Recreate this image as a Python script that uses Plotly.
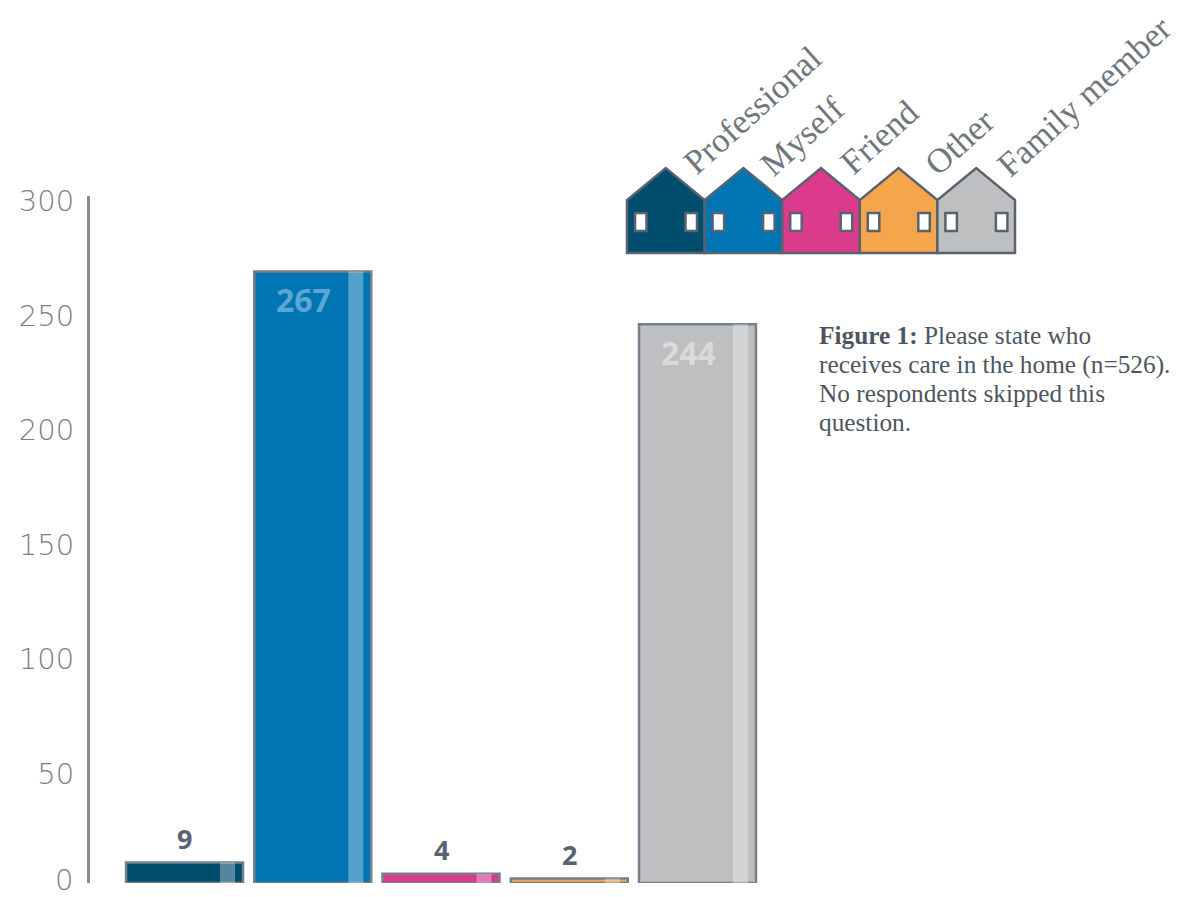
import plotly.graph_objects as go

W, H = 1183, 897
categories = ["Professional", "Myself", "Friend", "Other", "Family member"]
counts = [9, 267, 4, 2, 244]
colors = ["#004d6e", "#0075b3", "#dc3a8c", "#f5a54c", "#bebfc1"]
tick_values = [50, 100, 150, 200, 250, 300]
baseline_value = 0
label_colors = ["#58636f", "#5ba6d3", "#58636f", "#58636f", "#d9dadb"]
label_centers = [(752, 110), (802, 136), (879, 137), (959, 142), (1084, 96)]
caption_lines = ["<b>Figure 1:</b> Please state who", "receives care in the home (n=526).",
                 "No respondents skipped this", "question."]
caption_rows = [335, 364, 393, 422]

STROKE = "#58636f"
SLAB = "Liberation Serif"
TICK_FONT = dict(family="DejaVu Sans", size=29, color="#7d8083", weight=300)


def px(x):
    return x / W


def py(y):
    return 1 - y / H


fig = go.Figure()
fig.add_trace(go.Bar(
    x=categories, y=counts, width=0.912,
    marker=dict(color=colors, line=dict(color="#76808a", width=2.5)),
    hoverinfo="skip", showlegend=False,
))
fig.add_trace(go.Bar(
    x=categories, y=counts, width=0.117, offset=0.277,
    marker=dict(color="rgba(255,255,255,0.33)", line=dict(width=0)),
    hoverinfo="skip", showlegend=False,
))

annotations = []
for cat, val, lc in zip(categories, counts, label_colors):
    big = val > 50
    annotations.append(dict(
        x=cat, y=val, xref="x", yref="y", text=f"<b>{val}</b>", showarrow=False,
        xanchor="center", yanchor="middle", xshift=-9 if big else 0,
        yshift=-28 if big else 24,
        font=dict(family="Open Sans", size=32 if big else 27, color=lc),
    ))
for cat, (cx, cy) in zip(categories, label_centers):
    annotations.append(dict(
        x=px(cx), y=py(cy), xref="paper", yref="paper", text=cat, showarrow=False,
        textangle=-42, xanchor="center", yanchor="middle",
        font=dict(family=SLAB, size=34.5, color="#70767d"),
    ))
for line, row in zip(caption_lines, caption_rows):
    annotations.append(dict(
        x=px(818), y=py(row), xref="paper", yref="paper", text=line, showarrow=False,
        xanchor="left", yanchor="middle", align="left", borderpad=0,
        font=dict(family=SLAB, size=25.3, color="#4d5660"),
    ))
# The baseline label sits low, so it is placed apart from the shifted axis labels
# to stay fully inside the page.
annotations.append(dict(
    x=px(74), y=baseline_value, xref="paper", yref="y", text=str(baseline_value),
    showarrow=False, xanchor="right", yanchor="middle", yshift=3, borderpad=0,
    font=TICK_FONT,
))

shapes = []
for i, c in enumerate(colors):
    x0 = 627 + i * 77.6
    x1 = x0 + 77.6
    xm = (x0 + x1) / 2
    path = (f"M {px(x0)} {py(253)} L {px(x0)} {py(200)} L {px(xm)} {py(168)} "
            f"L {px(x1)} {py(200)} L {px(x1)} {py(253)} Z")
    shapes.append(dict(type="path", xref="paper", yref="paper", path=path,
                       fillcolor=c, line=dict(color=STROKE, width=2.5)))
    for off in (8, 58.5):
        shapes.append(dict(type="rect", xref="paper", yref="paper",
                           x0=px(x0 + off), x1=px(x0 + off + 11.5),
                           y0=py(231), y1=py(213), fillcolor="white",
                           line=dict(color=STROKE, width=2.5)))

fig.update_layout(
    width=W, height=H, margin=dict(l=0, r=0, t=0, b=0, pad=0, autoexpand=False),
    paper_bgcolor="white", plot_bgcolor="white", barmode="overlay",
    showlegend=False, annotations=annotations, shapes=shapes,
    xaxis=dict(domain=[px(120.4), px(761.6)], range=[-0.5, 4.5], visible=False,
               type="category", categoryorder="array", categoryarray=categories),
    yaxis=dict(domain=[py(883), py(196)], range=[0, 300], anchor="free",
               position=px(88), tickvals=tick_values, showgrid=False, zeroline=False,
               showline=True, linecolor="#8a8c8e", linewidth=3, ticks="",
               ticklabelstandoff=7, ticklabelshift=5, ticklabeloverflow="allow",
               automargin=False, tickfont=TICK_FONT),
)
fig.write_html("out.html", config={"displayModeBar": False},
               post_script="document.body.style.margin='0';")
